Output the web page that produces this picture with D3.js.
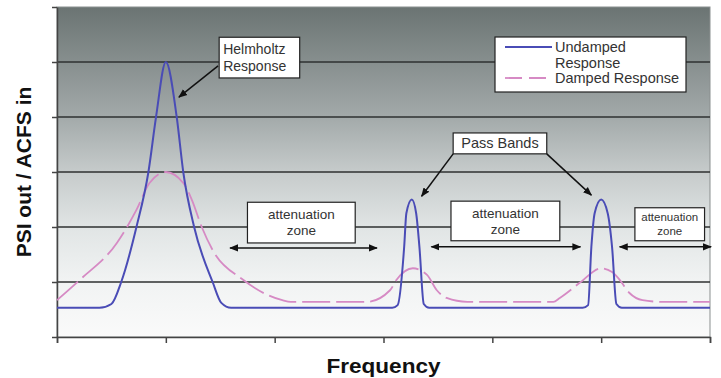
<!DOCTYPE html>
<meta charset="utf-8">
<style>
  body { margin: 0; background: #fff; }
  svg { display: block; font-family: "Liberation Sans", Arial, sans-serif; }
</style>
<div id="chart"></div>
<script src="https://d3js.org/d3.v7.min.js"></script>
<script>
// frequency (arbitrary units) and response values
const undampedX = [0, 0.39, 0.50, 0.59, 0.73, 0.84, 0.91, 1.0, 1.10, 1.16, 1.26, 1.43, 1.51, 1.60,
  3.08, 3.13, 3.19, 3.21, 3.26, 3.30, 3.33, 3.37, 3.42,
  4.83, 4.88, 4.91, 4.94, 5.0, 5.06, 5.10, 5.14, 5.19, 6.0];
const undampedY = [0.53, 0.53, 0.60, 1.0, 2.0, 3.0, 4.0, 5.0, 4.0, 3.0, 2.0, 1.0, 0.62, 0.53,
  0.53, 0.58, 1.64, 2.25, 2.5, 2.25, 1.64, 0.60, 0.53,
  0.53, 0.58, 1.64, 2.25, 2.5, 2.25, 1.64, 0.60, 0.53, 0.53];
const dampedX = [0, 0.21, 0.55, 0.73, 0.85, 1.0, 1.16, 1.24, 1.33, 1.43, 1.71, 2.07, 2.15,
  2.85, 3.06, 3.12, 3.27, 3.40, 3.49, 3.58, 3.77,
  4.56, 4.62, 4.80, 5.0, 5.10, 5.17, 5.26, 5.38, 5.55, 6.0];
const dampedY = [0.67, 1.04, 1.71, 2.31, 2.8, 3.0, 2.8, 2.49, 2.0, 1.58, 1.04, 0.67, 0.64,
  0.64, 0.85, 1.04, 1.25, 1.13, 0.85, 0.71, 0.64,
  0.64, 0.71, 0.98, 1.25, 1.18, 1.04, 0.8, 0.67, 0.64, 0.64];
const xTicks = [0, 1, 2, 3, 4, 5, 6];
const yTicks = [0, 1, 2, 3, 4, 5, 6];
const seriesNames = ["Undamped Response", "Damped Response"];

const width = 721, height = 378;
const margin = {top: 7, right: 11, bottom: 41, left: 57};

const x = d3.scaleLinear().domain([0, 6]).range([margin.left, width - margin.right]);
const y = d3.scaleLinear().domain([0, 6]).range([height - margin.bottom, margin.top]);

const svg = d3.select("#chart").append("svg")
    .attr("width", width).attr("height", height);

const grad = svg.append("defs").append("linearGradient")
    .attr("id", "bg").attr("x1", 0).attr("y1", 0).attr("x2", 0).attr("y2", 1);
[[0, "#6b7473"], [0.33, "#a2a9a9"], [0.5, "#c6cbcb"], [0.67, "#e1e5e5"], [0.83, "#f1f3f3"], [1, "#fafafa"]]
  .forEach(s => grad.append("stop").attr("offset", s[0]).attr("stop-color", s[1]));

svg.append("rect")
    .attr("x", x(0)).attr("y", y(6))
    .attr("width", x(6) - x(0)).attr("height", y(0) - y(6))
    .attr("fill", "url(#bg)")
    .attr("stroke", "#8a8f8f").attr("stroke-width", 1);

// gridlines
svg.append("g")
  .selectAll("line")
  .data(yTicks.slice(1, -1))
  .join("line")
    .attr("x1", x(0)).attr("x2", x(6))
    .attr("y1", d => y(d)).attr("y2", d => y(d))
    .attr("stroke", "#2e3030").attr("stroke-width", 1.6);

// axes
svg.append("g")
    .attr("transform", `translate(0,${y(0)})`)
    .call(d3.axisBottom(x).tickValues(xTicks).tickSize(6).tickFormat(""))
    .call(g => g.selectAll("line, path").attr("stroke", "#444").attr("stroke-width", 1.5));
svg.append("g")
    .attr("transform", `translate(${x(0)},0)`)
    .call(d3.axisLeft(y).tickValues(yTicks).tickSize(5).tickSizeOuter(0).tickFormat(""))
    .call(g => g.selectAll("line, path").attr("stroke", "#444").attr("stroke-width", 1.5));

const line = d3.line().x(d => x(d[0])).y(d => y(d[1])).curve(d3.curveMonotoneX);
const undamped = undampedX.map((v, i) => [v, undampedY[i]]);
const damped = dampedX.map((v, i) => [v, dampedY[i]]);

svg.append("path").datum(damped)
    .attr("d", line).attr("fill", "none")
    .attr("stroke", "#d68ac4").attr("stroke-width", 1.8)
    .attr("stroke-dasharray", "28,6");
svg.append("path").datum(undamped)
    .attr("d", line).attr("fill", "none")
    .attr("stroke", "#4a4cb6").attr("stroke-width", 2);

// arrow heads
const defs = svg.select("defs");
defs.append("marker")
    .attr("id", "ah").attr("viewBox", "0 0 10 10")
    .attr("refX", 9).attr("refY", 5)
    .attr("markerWidth", 9).attr("markerHeight", 9)
    .attr("markerUnits", "userSpaceOnUse")
    .attr("orient", "auto-start-reverse")
  .append("path").attr("d", "M0,1L10,5L0,9Z").attr("fill", "#111");

// annotation boxes, in data units
const notes = [
  {lines: ["Helmholtz", "Response"], x0: 1.49, x1: 2.23, y0: 5.45, y1: 4.71, size: 14, left: true},
  {lines: ["Pass Bands"], x0: 3.64, x1: 4.50, y0: 3.71, y1: 3.33, size: 14.5},
  {lines: ["attenuation", "zone"], x0: 1.75, x1: 2.74, y0: 2.45, y1: 1.71, size: 13.5},
  {lines: ["attenuation", "zone"], x0: 3.62, x1: 4.62, y0: 2.47, y1: 1.75, size: 13.5},
  {lines: ["attenuation", "zone"], x0: 5.31, x1: 5.95, y0: 2.35, y1: 1.75, size: 11.5}
];
const pointers = [
  {from: [1.48, 4.93], to: [1.12, 4.36], both: false},
  {from: [3.64, 3.33], to: [3.35, 2.56], both: false},
  {from: [4.50, 3.33], to: [4.91, 2.58], both: false},
  {from: [1.59, 1.62], to: [2.94, 1.62], both: true},
  {from: [3.44, 1.64], to: [4.81, 1.64], both: true},
  {from: [5.17, 1.64], to: [6.01, 1.64], both: true}
];

svg.append("g").selectAll("line")
  .data(pointers)
  .join("line")
    .attr("x1", d => x(d.from[0])).attr("y1", d => y(d.from[1]))
    .attr("x2", d => x(d.to[0])).attr("y2", d => y(d.to[1]))
    .attr("stroke", "#111").attr("stroke-width", 1.5)
    .attr("marker-end", "url(#ah)")
    .attr("marker-start", d => d.both ? "url(#ah)" : null);

const note = svg.append("g").selectAll("g").data(notes).join("g");
note.append("rect")
    .attr("x", d => x(d.x0)).attr("y", d => y(d.y0))
    .attr("width", d => x(d.x1) - x(d.x0)).attr("height", d => y(d.y1) - y(d.y0))
    .attr("fill", "#fff").attr("stroke", "#222").attr("stroke-width", 1.2);
note.each(function(d) {
  const g = d3.select(this);
  const top = y(d.y0), h = y(d.y1) - y(d.y0);
  const step = d.size * 1.2;
  const start = top + h / 2 - (d.lines.length - 1) * step / 2;
  d.lines.forEach((t, i) => {
    g.append("text")
      .attr("x", d.left ? x(d.x0) + 4 : (x(d.x0) + x(d.x1)) / 2)
      .attr("y", start + i * step)
      .attr("dy", "0.35em")
      .attr("text-anchor", d.left ? "start" : "middle")
      .attr("font-size", d.size)
      .attr("fill", "#333")
      .text(t);
  });
});

// legend
const lg = svg.append("g").attr("transform", "translate(495,37)");
lg.append("rect").attr("width", 191).attr("height", 55)
    .attr("fill", "#fff").attr("stroke", "#222").attr("stroke-width", 1.2);
lg.append("line").attr("x1", 10).attr("x2", 57).attr("y1", 10).attr("y2", 10)
    .attr("stroke", "#4a4cb6").attr("stroke-width", 2);
lg.append("line").attr("x1", 10).attr("x2", 57).attr("y1", 41).attr("y2", 41)
    .attr("stroke", "#d68ac4").attr("stroke-width", 1.8).attr("stroke-dasharray", "17,7");
lg.append("text").attr("x", 60).attr("y", 10).attr("dy", "0.35em")
    .attr("font-size", 14.5).attr("fill", "#333").text(seriesNames[0].split(" ")[0]);
lg.append("text").attr("x", 60).attr("y", 26).attr("dy", "0.35em")
    .attr("font-size", 14.5).attr("fill", "#333").text(seriesNames[0].split(" ")[1]);
lg.append("text").attr("x", 60).attr("y", 41).attr("dy", "0.35em")
    .attr("font-size", 14.5).attr("fill", "#333").text(seriesNames[1]);

// axis titles
svg.append("text")
    .attr("x", (x(0) + x(6)) / 2).attr("y", 373)
    .attr("text-anchor", "middle")
    .attr("font-size", 21).attr("font-weight", "bold").attr("fill", "#111")
    .attr("textLength", 114).attr("lengthAdjust", "spacingAndGlyphs")
    .text("Frequency");
svg.append("text")
    .attr("transform", `translate(31,${(y(0) + y(6)) / 2}) rotate(-90)`)
    .attr("text-anchor", "middle")
    .attr("font-size", 21).attr("font-weight", "bold").attr("fill", "#111")
    .text("PSI out / ACFS in");
</script>
